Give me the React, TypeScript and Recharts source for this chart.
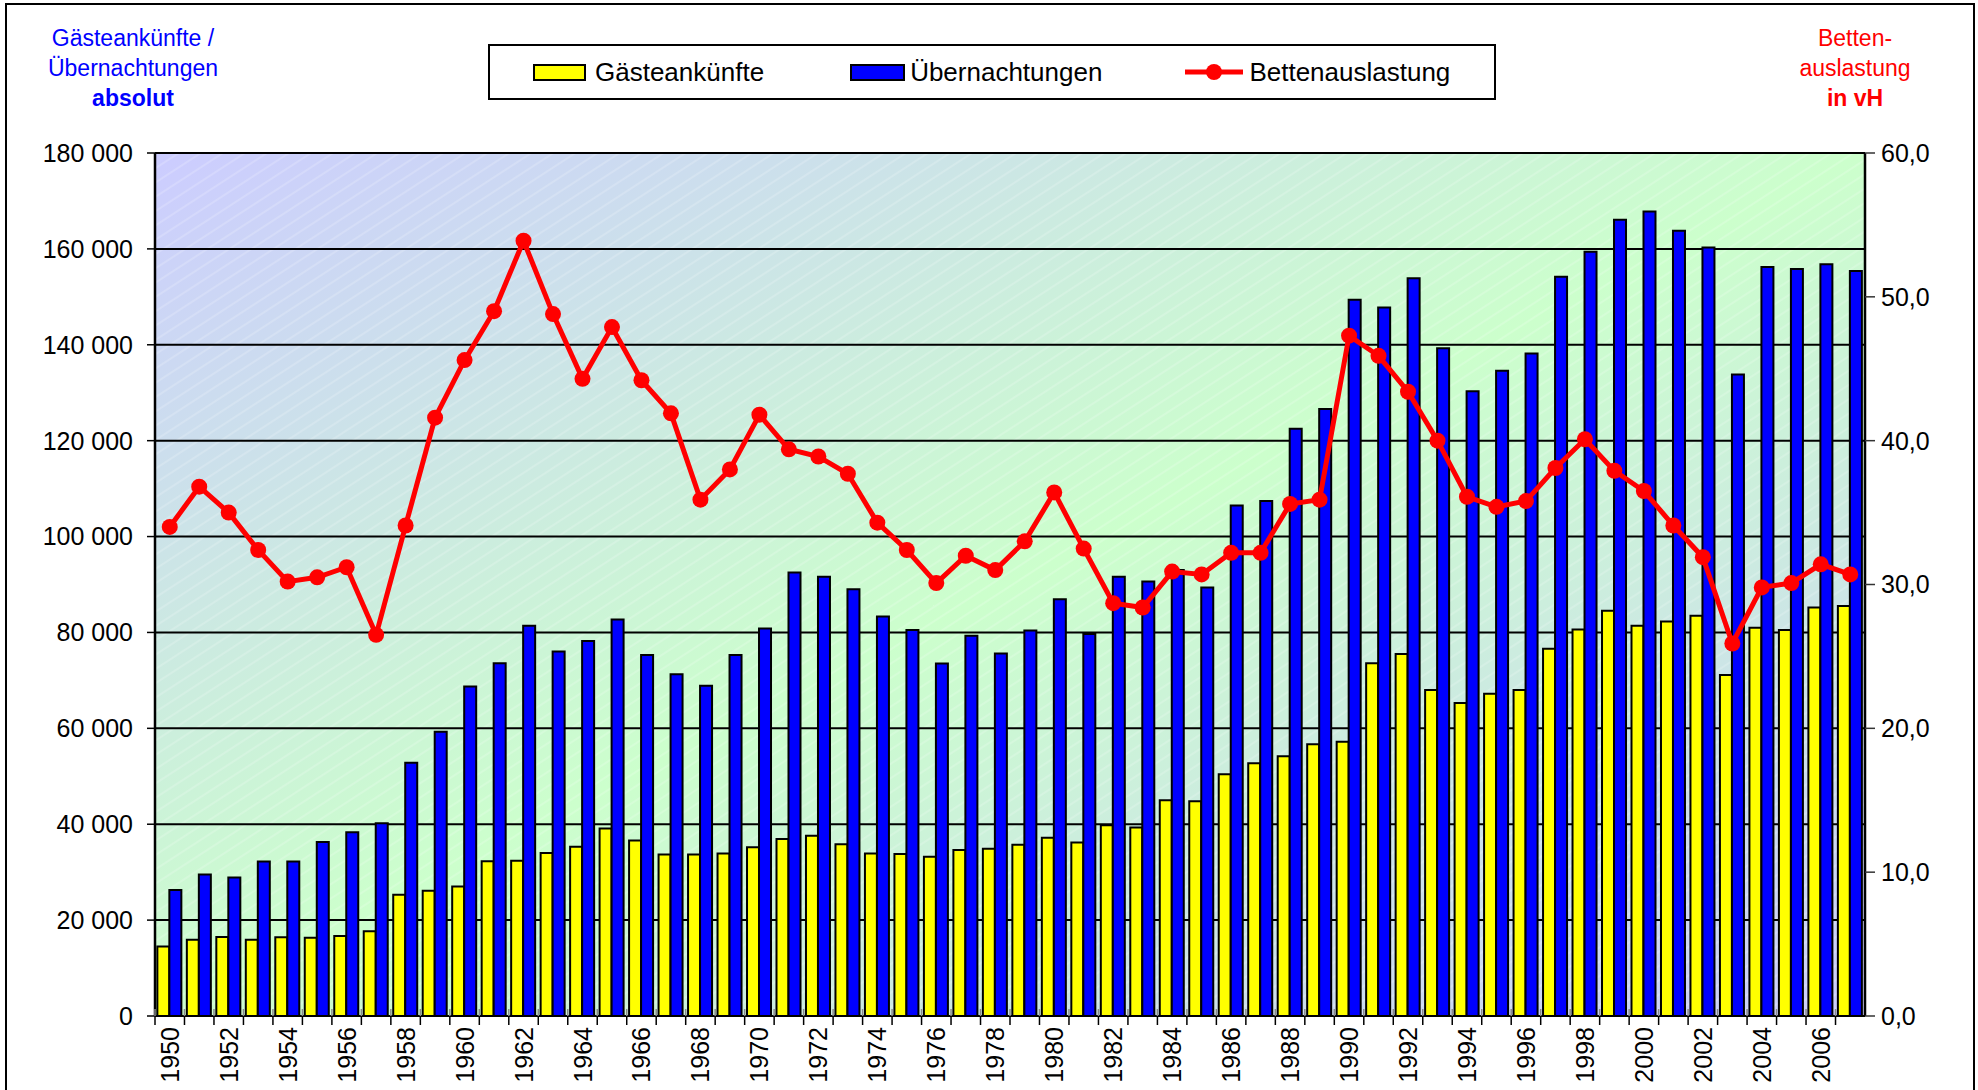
import React from 'react';
import { ComposedChart, Bar, Line, XAxis, YAxis, CartesianGrid, Legend } from 'recharts';

const YEARS = [
  1950, 1951, 1952, 1953, 1954, 1955, 1956, 1957, 1958, 1959,
  1960, 1961, 1962, 1963, 1964, 1965, 1966, 1967, 1968, 1969,
  1970, 1971, 1972, 1973, 1974, 1975, 1976, 1977, 1978, 1979,
  1980, 1981, 1982, 1983, 1984, 1985, 1986, 1987, 1988, 1989,
  1990, 1991, 1992, 1993, 1994, 1995, 1996, 1997, 1998, 1999,
  2000, 2001, 2002, 2003, 2004, 2005, 2006, 2007,
];

const GAESTE = [
  14500, 15900, 16500, 15900, 16400, 16300, 16700, 17700, 25300, 26100,
  27000, 32300, 32400, 34000, 35300, 39100, 36600, 33700, 33700, 33900,
  35200, 36900, 37600, 35800, 33900, 33800, 33200, 34600, 34900, 35700,
  37200, 36200, 39800, 39300, 45000, 44800, 50400, 52700, 54200, 56700,
  57200, 73600, 75500, 68000, 65300, 67200, 68000, 76600, 80600, 84500,
  81400, 82300, 83500, 71100, 81000, 80500, 85200, 85500,
];

const UEBERN = [
  26300, 29500, 28900, 32200, 32200, 36300, 38300, 40200, 52800, 59300,
  68700, 73600, 81400, 76000, 78200, 82700, 75300, 71300, 68900, 75300,
  80800, 92500, 91600, 89000, 83300, 80500, 73500, 79300, 75600, 80400,
  86900, 79700, 91600, 90600, 93000, 89400, 106500, 107400, 122500, 126600,
  149400, 147800, 153900, 139300, 130300, 134600, 138200, 154200, 159400, 166100,
  167800, 163800, 160300, 133800, 156200, 155800, 156800, 155400,
];

const BETT = [
  34.0, 36.8, 35.0, 32.4, 30.2, 30.5, 31.2, 26.5, 34.1, 41.6,
  45.6, 49.0, 53.9, 48.8, 44.3, 47.9, 44.2, 41.9, 35.9, 38.0,
  41.8, 39.4, 38.9, 37.7, 34.3, 32.4, 30.1, 32.0, 31.0, 33.0,
  36.4, 32.5, 28.7, 28.4, 30.9, 30.7, 32.2, 32.2, 35.6, 35.9,
  47.3, 45.9, 43.4, 40.0, 36.1, 35.4, 35.8, 38.1, 40.1, 37.9,
  36.5, 34.1, 31.9, 25.9, 29.8, 30.1, 31.4, 30.7,
];

const LEFT_TICKS = [0, 20000, 40000, 60000, 80000, 100000, 120000, 140000, 160000, 180000];
const RIGHT_TICKS = [0, 10, 20, 30, 40, 50, 60];

const NAME_GAESTE = 'Gästeankünfte';
const NAME_UEBERN = 'Übernachtungen';
const NAME_BETT = 'Bettenauslastung';

const LEFT_TITLE = ['Gästeankünfte /', 'Übernachtungen', 'absolut'];
const RIGHT_TITLE = ['Betten-', 'auslastung', 'in vH'];

const data = YEARS.map((y, i) => ({
  year: String(y),
  gaeste: GAESTE[i],
  uebern: UEBERN[i],
  bett: BETT[i],
}));

const FONT = '"Liberation Sans", Arial, sans-serif';
const W = 1978;
const H = 1090;
const LEFT_W = 155;
const RIGHT_W = 113;
const TOP = 153;
const XAXIS_H = 74;
const PLOT_W = W - LEFT_W - RIGHT_W;
const PLOT_H = H - TOP - XAXIS_H;
const BAND = PLOT_W / YEARS.length;

const fmtLeft = (v: number) => String(v).replace(/\B(?=(\d{3})+(?!\d))/g, ' ');
const fmtRight = (v: number) => v.toFixed(1).replace('.', ',');

const XTick = (props: any) => {
  const { x, y, payload } = props;
  const index = props.index ?? payload?.index ?? 0;
  const bx = x - BAND / 2;
  return (
    <g>
      <line x1={bx} x2={bx} y1={y - 7} y2={y} stroke="#8a8a8a" strokeWidth={1.5} />
      <line x1={bx} x2={bx} y1={y} y2={y + 9} stroke="#000" strokeWidth={1.5} />
      {index % 2 === 0 && (
        <text
          transform={`translate(${x},${y + 11}) rotate(-90)`}
          textAnchor="end"
          dominantBaseline="central"
          fontSize={25}
          fontFamily={FONT}
          fill="#000"
        >
          {payload.value}
        </text>
      )}
    </g>
  );
};

const LegendBox = () => (
  <div
    style={{
      boxSizing: 'border-box',
      width: 1008,
      height: 56,
      border: '2px solid #000',
      background: '#fff',
      display: 'flex',
      alignItems: 'center',
      paddingLeft: 43,
      fontSize: 26,
      fontFamily: FONT,
      color: '#000',
      whiteSpace: 'nowrap',
    }}
  >
    <span style={{ display: 'inline-block', width: 53, height: 17, background: '#FFFF00', border: '2px solid #000', boxSizing: 'border-box' }} />
    <span style={{ marginLeft: 9 }}>{NAME_GAESTE}</span>
    <span style={{ display: 'inline-block', marginLeft: 86, width: 55, height: 17, background: '#0000FF', border: '2px solid #000', boxSizing: 'border-box' }} />
    <span style={{ marginLeft: 5 }}>{NAME_UEBERN}</span>
    <svg width={60} height={20} style={{ marginLeft: 82 }}>
      <line x1={1} x2={59} y1={10} y2={10} stroke="#FF0000" strokeWidth={5} />
      <circle cx={30} cy={10} r={8} fill="#FF0000" />
    </svg>
    <span style={{ marginLeft: 5 }}>{NAME_BETT}</span>
  </div>
);

const titleStyle = (cx: number, color: string): React.CSSProperties => ({
  position: 'absolute',
  left: cx - 130,
  top: 23,
  width: 260,
  textAlign: 'center',
  fontFamily: FONT,
  fontSize: 23,
  lineHeight: '30px',
  color,
});

export default function App() {
  return (
    <div style={{ position: 'absolute', left: 0, top: 0, width: W, height: H, overflow: 'hidden', background: '#fff' }}>
      <svg width={0} height={0} style={{ position: 'absolute' }}>
        <defs>
          <linearGradient id="bgGrad" x1="0" y1="0" x2="1" y2="1">
            <stop offset="0" stopColor="#CCCCFF" />
            <stop offset="0.5" stopColor="#CCFFCC" />
            <stop offset="1" stopColor="#CCCCFF" />
          </linearGradient>
          <pattern id="hatch" patternUnits="userSpaceOnUse" width={12} height={12} patternTransform="rotate(-33)">
            <line x1={0} x2={12} y1={1} y2={1} stroke="#ffffff" strokeOpacity={0.35} strokeWidth={1} />
          </pattern>
          <pattern id="plotBg" patternUnits="userSpaceOnUse" x={LEFT_W} y={TOP} width={PLOT_W} height={PLOT_H}>
            <rect x={0} y={0} width={PLOT_W} height={PLOT_H} fill="url(#bgGrad)" />
            <rect x={0} y={0} width={PLOT_W} height={PLOT_H} fill="url(#hatch)" />
          </pattern>
        </defs>
      </svg>

      <div style={{ position: 'absolute', left: 5, top: 3, width: 1970, height: 1100, border: '2px solid #000', boxSizing: 'border-box' }} />

      <div style={titleStyle(133, '#0000FF')}>
        <div>{LEFT_TITLE[0]}</div>
        <div>{LEFT_TITLE[1]}</div>
        <div style={{ fontWeight: 'bold' }}>{LEFT_TITLE[2]}</div>
      </div>
      <div style={titleStyle(1855, '#FF0000')}>
        <div>{RIGHT_TITLE[0]}</div>
        <div>{RIGHT_TITLE[1]}</div>
        <div style={{ fontWeight: 'bold' }}>{RIGHT_TITLE[2]}</div>
      </div>

      <div style={{ position: 'absolute', left: 0, top: 0 }}>
        <ComposedChart
          width={W}
          height={H}
          data={data}
          margin={{ top: TOP, right: 0, bottom: 0, left: 0 }}
          barCategoryGap="8%"
          barGap={0}
        >
          <CartesianGrid
            yAxisId="left"
            vertical={false}
            stroke="#000"
            strokeWidth={2}
            fill="url(#plotBg)"
            fillOpacity={1}
          />
          <XAxis
            dataKey="year"
            interval={0}
            tickLine={false}
            tickSize={0}
            tickMargin={0}
            height={XAXIS_H}
            axisLine={{ stroke: '#000', strokeWidth: 2 }}
            tick={(p: any) => <XTick {...p} />}
          />
          <YAxis
            yAxisId="left"
            orientation="left"
            width={LEFT_W}
            domain={[0, 180000]}
            ticks={LEFT_TICKS}
            interval={0}
            tickFormatter={fmtLeft}
            tick={{ fill: '#000', fontSize: 25, fontFamily: FONT }}
            tickLine={{ stroke: '#000', strokeWidth: 1.5 }}
            tickSize={8}
            tickMargin={14}
            axisLine={{ stroke: '#000', strokeWidth: 2.5 }}
          />
          <YAxis
            yAxisId="right"
            orientation="right"
            width={RIGHT_W}
            domain={[0, 60]}
            ticks={RIGHT_TICKS}
            interval={0}
            tickFormatter={fmtRight}
            tick={{ fill: '#000', fontSize: 25, fontFamily: FONT, textAnchor: 'start' }}
            tickLine={{ stroke: '#333', strokeWidth: 1.5 }}
            tickSize={10}
            tickMargin={6}
            axisLine={{ stroke: '#000', strokeWidth: 2.5 }}
          />
          <Legend
            layout="horizontal"
            verticalAlign="middle"
            align="center"
            wrapperStyle={{ left: 488, top: 44, width: 1008, height: 56 }}
            content={() => <LegendBox />}
          />
          <Bar yAxisId="left" dataKey="gaeste" name={NAME_GAESTE} fill="#FFFF00" stroke="#000" strokeWidth={2} isAnimationActive={false} />
          <Bar yAxisId="left" dataKey="uebern" name={NAME_UEBERN} fill="#0000FF" stroke="#000" strokeWidth={2} isAnimationActive={false} />
          <Line
            yAxisId="right"
            dataKey="bett"
            name={NAME_BETT}
            stroke="#FF0000"
            strokeWidth={5}
            dot={{ r: 8, fill: '#FF0000', stroke: 'none' }}
            activeDot={false}
            isAnimationActive={false}
          />
        </ComposedChart>
      </div>
    </div>
  );
}
